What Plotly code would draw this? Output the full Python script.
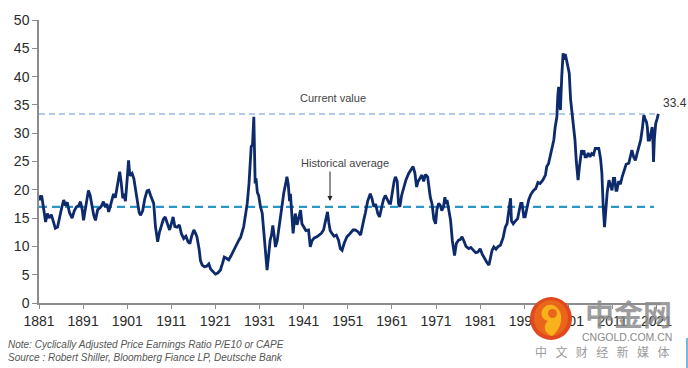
import plotly.graph_objects as go

# ---- data ----
years = [
    1881.0, 1881.3, 1881.6, 1882.0, 1882.5, 1882.9, 1883.3, 1883.8, 1884.3, 1884.7,
    1885.2, 1885.7, 1886.2, 1886.6, 1887.0, 1887.4, 1887.9, 1888.5, 1889.0, 1889.5,
    1890.0, 1890.4, 1890.8, 1891.1, 1891.6, 1892.2, 1892.6, 1893.0, 1893.4, 1893.8,
    1894.3, 1894.8, 1895.2, 1895.6, 1896.0, 1896.4, 1896.8, 1897.3, 1897.9, 1898.3,
    1898.8, 1899.3, 1899.6, 1900.0, 1900.2, 1900.6, 1901.0, 1901.3, 1901.6, 1902.1,
    1902.5, 1902.9, 1903.3, 1903.7, 1904.0, 1904.5, 1905.0, 1905.5, 1905.9, 1906.3,
    1906.7, 1907.0, 1907.4, 1907.9, 1908.3, 1908.8, 1909.2, 1909.6, 1910.1, 1910.6,
    1911.0, 1911.4, 1911.8, 1912.3, 1912.8, 1913.3, 1913.8, 1914.3, 1914.8, 1915.2,
    1915.6, 1916.1, 1916.5, 1916.8, 1917.3, 1917.6, 1918.0, 1918.5, 1919.0, 1919.5,
    1919.9, 1920.5, 1921.0, 1921.5, 1922.1, 1922.6, 1923.0, 1923.5, 1924.0, 1924.5,
    1925.1, 1925.6, 1926.0, 1926.3, 1926.7, 1927.0, 1927.4, 1927.8, 1928.2, 1928.6,
    1928.9, 1929.1, 1929.4, 1929.7, 1929.85, 1930.0, 1930.2, 1930.5, 1930.8, 1931.2,
    1931.6, 1931.9, 1932.2, 1932.5, 1932.7, 1933.0, 1933.4, 1933.7, 1934.0, 1934.3,
    1934.6, 1935.0, 1935.4, 1935.7, 1936.1, 1936.5, 1936.9, 1937.2, 1937.5, 1937.8,
    1938.0, 1938.3, 1938.6, 1938.9, 1939.1, 1939.5, 1939.9, 1940.3, 1940.6, 1941.0,
    1941.5, 1942.1, 1942.5, 1942.9, 1943.4, 1944.0, 1944.5, 1945.0, 1945.5, 1946.0,
    1946.4, 1946.7, 1947.0, 1947.4, 1947.9, 1948.4, 1948.9, 1949.3, 1949.7, 1950.2,
    1950.8, 1951.2, 1951.7, 1952.2, 1952.7, 1953.3, 1953.9, 1954.3, 1954.6, 1955.0,
    1955.5, 1956.1, 1956.5, 1956.9, 1957.3, 1957.8, 1958.2, 1958.7, 1959.1, 1959.5,
    1960.0, 1960.4, 1960.7, 1961.1, 1961.5, 1961.8, 1962.2, 1962.5, 1962.8, 1963.2,
    1963.7, 1964.2, 1964.8, 1965.3, 1965.8, 1966.2, 1966.6, 1966.9, 1967.3, 1967.8,
    1968.2, 1968.6, 1969.1, 1969.4, 1969.7, 1970.1, 1970.5, 1970.9, 1971.2, 1971.6,
    1972.0, 1972.3, 1972.7, 1973.0, 1973.3, 1973.5, 1973.9, 1974.3, 1974.7, 1975.0,
    1975.2, 1975.6, 1976.1, 1976.5, 1976.9, 1977.3, 1977.8, 1978.4, 1978.9, 1979.5,
    1980.0, 1980.5, 1981.0, 1981.5, 1982.0, 1982.5, 1983.0, 1983.3, 1983.7, 1984.1,
    1984.6, 1985.1, 1985.6, 1986.2, 1986.7, 1987.1, 1987.5, 1987.9, 1988.1, 1988.5,
    1989.0, 1989.5, 1989.9, 1990.2, 1990.5, 1990.9, 1991.2, 1991.6, 1992.0, 1992.5,
    1993.1, 1993.6, 1994.1, 1994.6, 1995.2, 1995.8, 1996.1, 1996.5, 1996.9, 1997.3,
    1997.7, 1998.0, 1998.4, 1998.6, 1998.8, 1999.0, 1999.2, 1999.5, 1999.8, 2000.1,
    2000.3, 2000.6, 2000.9, 2001.2, 2001.5, 2001.7, 2002.1, 2002.5, 2002.8, 2003.0,
    2003.2, 2003.5, 2003.8, 2004.0, 2004.3, 2004.5, 2004.8, 2005.1, 2005.5, 2005.9,
    2006.3, 2006.7, 2007.1, 2007.4, 2007.9, 2008.3, 2008.6, 2008.9, 2009.2, 2009.5,
    2009.8, 2010.2, 2010.5, 2010.9, 2011.2, 2011.5, 2011.8, 2012.0, 2012.4, 2012.8,
    2013.2, 2013.6, 2014.1, 2014.7, 2015.0, 2015.4, 2015.8, 2016.2, 2016.6, 2017.0,
    2017.4, 2017.8, 2018.1, 2018.4, 2018.7, 2018.9, 2019.1, 2019.4, 2019.7, 2020.0,
    2020.2, 2020.3, 2020.5, 2020.8, 2021.1, 2021.4,
]
cape = [
    19.0, 18.2, 19.0, 16.5, 14.3, 15.8, 15.0, 15.6, 14.2, 13.2,
    13.4, 15.5, 17.0, 18.2, 17.2, 17.8, 16.0, 15.0, 16.3, 17.0,
    17.2, 17.9, 16.5, 14.6, 16.8, 19.9, 19.0, 17.0, 15.5, 14.6,
    16.5, 16.8, 17.2, 17.9, 17.0, 17.5, 16.1, 17.5, 19.3, 18.6,
    20.8, 23.2, 21.5, 18.5, 19.3, 18.0, 22.0, 25.2, 22.5, 22.9,
    22.0, 19.5, 18.0, 16.0, 15.5, 16.3, 18.5, 19.8, 19.9, 19.0,
    18.3, 17.6, 13.5, 10.8, 12.5, 14.0, 14.8, 15.2, 14.0, 12.9,
    14.0, 15.2, 13.5, 13.4, 13.8, 12.2, 11.4, 11.8, 10.8, 10.5,
    11.8, 12.9, 12.3, 11.7, 9.5, 7.5, 6.7, 6.4, 6.5, 6.9,
    6.0, 5.6, 5.1, 5.3, 5.8, 7.0, 8.1, 7.9, 7.6, 8.3,
    9.3, 10.0, 10.5, 11.1, 11.6, 12.3, 13.5, 15.5, 17.6, 21.0,
    25.5, 27.6, 28.0, 32.9, 27.0, 21.1, 22.0, 19.5, 19.0, 17.0,
    15.9, 13.5, 10.0, 7.5, 5.8, 8.0, 11.1, 12.0, 13.7, 12.0,
    9.9, 11.0, 13.5, 14.6, 17.5, 19.5, 21.0, 22.3, 21.0, 18.0,
    19.3, 15.0, 12.3, 14.5, 15.8, 13.8, 15.0, 16.4, 14.0, 13.4,
    12.8, 12.9, 9.9, 11.0, 11.5, 11.7, 12.0, 12.3, 12.9, 14.8,
    16.1, 14.2, 12.8, 12.3, 11.8, 12.0, 11.1, 9.6, 9.3, 10.6,
    11.7, 12.0, 12.4, 12.9, 12.9, 12.6, 12.0, 13.2, 14.6, 16.0,
    18.0, 19.3, 18.4, 17.0, 17.5, 15.8, 15.2, 17.0, 18.3, 19.0,
    18.2, 17.6, 17.6, 20.0, 21.5, 22.3, 21.5, 17.5, 17.0, 19.0,
    20.5, 21.8, 22.9, 23.4, 24.1, 23.0, 20.5, 21.4, 22.0, 22.6,
    21.5, 22.7, 22.3, 20.5, 18.7, 17.5, 14.8, 14.0, 16.5, 17.6,
    17.2, 16.3, 17.0, 18.7, 17.5, 18.2, 16.0, 14.6, 11.0, 8.7,
    8.4, 10.5, 11.1, 11.2, 11.7, 11.0, 10.0, 9.6, 9.8, 9.3,
    8.9, 9.0, 9.6, 8.6, 7.8, 7.2, 6.7, 7.8, 9.3, 9.9,
    9.5, 10.0, 10.2, 11.5, 13.4, 14.0, 16.0, 18.5, 14.5, 14.0,
    14.5, 14.9, 16.5, 17.6, 17.6, 15.2, 15.2, 17.0, 18.2, 19.2,
    19.9, 20.2, 21.3, 21.1, 21.7, 22.6, 24.1, 24.6, 26.1, 27.5,
    28.8, 31.0, 32.9, 36.5, 38.2, 35.5, 34.1, 40.0, 44.1, 43.0,
    44.0, 42.9, 41.5, 40.6, 36.0, 34.7, 31.0, 28.8, 25.0, 22.8,
    21.7, 24.0, 26.5, 27.0, 26.2, 27.0, 25.8, 25.8, 26.5, 25.8,
    26.4, 26.2, 27.3, 27.3, 27.3, 25.5, 22.9, 17.0, 13.4, 16.5,
    19.5, 21.7, 20.8, 19.9, 22.0, 22.0, 19.9, 19.9, 21.5, 21.0,
    22.3, 23.5, 24.5, 24.7, 26.0, 27.0, 25.8, 25.2, 26.5, 27.8,
    28.8, 31.0, 33.2, 32.5, 32.0, 31.1, 28.8, 28.8, 30.2, 31.1,
    28.0, 24.9, 29.0, 31.7, 32.5, 33.4,
]
current_value = 33.4
historical_average = 17.0
tick_years = [1881, 1891, 1901, 1911, 1921, 1931, 1941, 1951, 1961, 1971, 1981, 1991, 2001, 2011, 2021]
y_ticks = [0, 5, 10, 15, 20, 25, 30, 35, 40, 45, 50]

# ---- layout helpers (pixel -> paper) ----
W, H = 688, 368
ML, MR, MT, MB = 39, 27, 20, 65
PW, PH = W - ML - MR, H - MT - MB


def px(x):
    return (x - ML) / PW


def py(y):
    return (H - MB - y) / PH


FONT = "Liberation Sans, Arial, sans-serif"
CJK = "Noto Sans CJK SC"


def label(text, x, y, size, color, family=FONT, xanchor="center"):
    return dict(text=text, x=px(x), y=py(y), xref="paper", yref="paper",
                xanchor=xanchor, yanchor="middle", showarrow=False,
                font=dict(size=size, color=color, family=family))


fig = go.Figure()
fig.add_trace(go.Scatter(
    x=years, y=cape, mode="lines",
    line=dict(color="#0d2a6c", width=2.8),
    showlegend=False, hoverinfo="skip",
))

# reference lines
fig.add_shape(type="line", xref="x", yref="y", x0=years[0], x1=years[-1],
              y0=current_value, y1=current_value,
              line=dict(color="#9db9e2", width=1.6, dash="6px,4px"), layer="below")
fig.add_shape(type="line", xref="x", yref="y", x0=years[0], x1=2020.4,
              y0=historical_average, y1=historical_average,
              line=dict(color="#2b97c6", width=2.2, dash="8px,5px"), layer="below")

sp = "\u2002\u2009"
annotations = [
    label("Current value", 333, 98, 11, "#444"),
    label("Historical average", 345, 163, 11, "#444"),
    dict(text="", x=px(330), y=py(201), xref="paper", yref="paper",
         showarrow=True, ax=0, ay=-31, arrowhead=2, arrowsize=1, arrowwidth=1,
         arrowcolor="#222"),
    label("33.4", 661, 103, 12, "#333", xanchor="left"),
    label("<i>Note: Cyclically Adjusted Price Earnings Ratio P/E10 or CAPE</i>",
          6, 344, 10, "#555", xanchor="left"),
    label("<i>Source : Robert Shiller, Bloomberg Fiance LP, Deutsche Bank</i>",
          6, 357, 10, "#555", xanchor="left"),
    # watermark texts
    label("<b>中金网</b>", 628, 313, 29, "rgba(140,140,140,0.85)", family=CJK),
    label("CNGOLD.COM.CN", 627, 337, 10.5, "#8a8a8a"),
    label(sp.join("中文财经新媒体"), 602, 351, 12, "#9a9a9a", family=CJK),
]
fig.update_layout(annotations=annotations)

# watermark logo shapes
fig.add_shape(type="circle", xref="paper", yref="paper",
              x0=px(530), x1=px(572), y0=py(297), y1=py(340),
              fillcolor="#e0491d", line=dict(width=0), layer="above")
fig.add_shape(type="circle", xref="paper", yref="paper",
              x0=px(534), x1=px(568), y0=py(300), y1=py(336),
              fillcolor="#ea661c", line=dict(width=0), layer="above")
swirl = ("M {a},{b} C {c},{d} {e},{f} {g},{h} C {i},{j} {k},{l} {m},{n} "
         "C {o},{p} {q},{r} {s},{t} Z").format(
    a=px(553), b=py(305), c=px(541), d=py(303), e=px(537), f=py(318), g=px(548), h=py(321),
    i=px(542), j=py(326), k=px(545), l=py(334), m=px(552), n=py(336),
    o=px(561), p=py(330), q=px(567), r=py(312), s=px(553), t=py(305))
fig.add_shape(type="path", xref="paper", yref="paper", path=swirl,
              fillcolor="#f7b21c", line=dict(width=0), layer="above")
fig.add_shape(type="circle", xref="paper", yref="paper",
              x0=px(548), x1=px(557), y0=py(309), y1=py(318),
              fillcolor="#ea661c", line=dict(width=0), layer="above")
fig.add_shape(type="rect", xref="paper", yref="paper",
              x0=px(686), x1=px(688), y0=py(338), y1=py(368),
              fillcolor="#7fb6e0", line=dict(width=0), layer="above")

fig.update_xaxes(
    range=[1881, 2022], tickvals=tick_years, ticktext=[str(t) for t in tick_years],
    showgrid=False, zeroline=False, showline=True, linecolor="#8c8c8c", linewidth=1.5,
    ticks="outside", ticklen=4, tickcolor="#8c8c8c", tickwidth=1.2,
    tickfont=dict(size=14, color="#2a2a2a", family=FONT),
)
fig.update_yaxes(
    range=[0, 50], tickvals=y_ticks,
    showgrid=False, zeroline=False, showline=True, linecolor="#8c8c8c", linewidth=1.5,
    ticks="outside", ticklen=5, tickcolor="#8c8c8c", tickwidth=1.2,
    tickfont=dict(size=14, color="#2a2a2a", family=FONT),
)
fig.update_layout(
    width=W, height=H, margin=dict(l=ML, r=MR, t=MT, b=MB),
    paper_bgcolor="white", plot_bgcolor="white",
    font=dict(family=FONT),
)
fig.write_html("out.html")
